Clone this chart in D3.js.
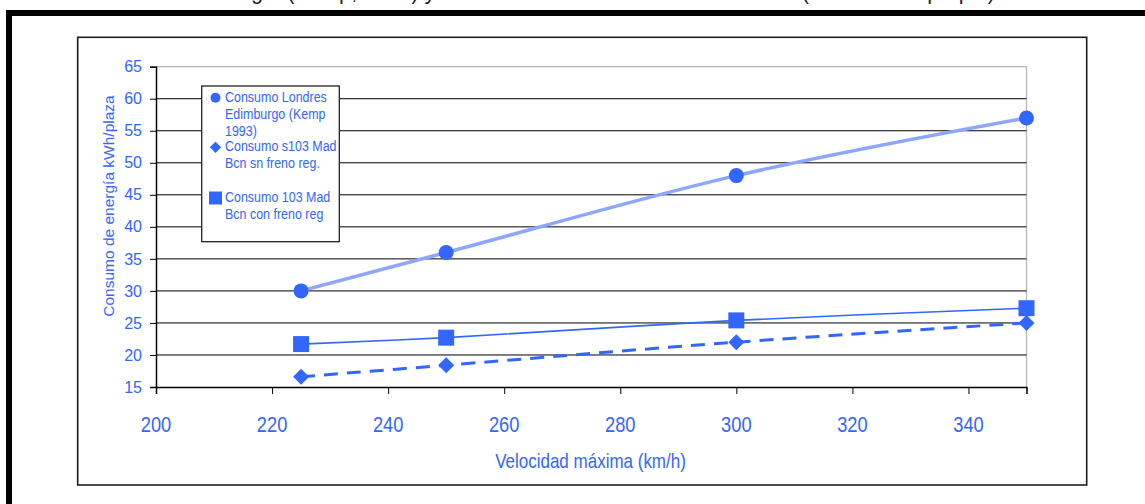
<!DOCTYPE html>
<html>
<head>
<meta charset="utf-8">
<script src="https://cdn.jsdelivr.net/npm/d3@7"></script>
<style>
  html, body { margin: 0; padding: 0; background: #fff; overflow: hidden; }
  svg { display: block; }
  text { font-family: "Liberation Sans", Arial, sans-serif; }
</style>
</head>
<body>
<svg id="chart" width="1145" height="504"></svg>
<script>
// Speeds (km/h) at which each consumption figure was measured
const speeds = [225, 250, 300, 350];

// Energy consumption, kWh per seat
const londresEdimburgo = [30, 36, 48, 57];
const s103SinFreno = [16.6, 18.4, 22, 25];
const s103ConFreno = [21.7, 22.7, 25.4, 27.3];

// Series names as shown in the legend (one array of lines per series)
const seriesNames = [
  ["Consumo Londres", "Edimburgo (Kemp", "1993)"],
  ["Consumo s103 Mad", "Bcn sn freno reg."],
  ["Consumo 103 Mad", "Bcn con freno reg"]
];

// Axis ticks
const xTicks = [200, 220, 240, 260, 280, 300, 320, 340];
const yTicks = [15, 20, 25, 30, 35, 40, 45, 50, 55, 60, 65];

const xTitle = "Velocidad máxima (km/h)";
const yTitle = "Consumo de energía kWh/plaza";
const figTitle = "Energía (Kemp, 1993) y consumo del s103 Madrid-Barcelona (elaboración propia)";

const BLUE = "#3366ff";
const LIGHT = "#8fa6ff";

const svg = d3.select("#chart");

// Heading above the framed figure (mostly outside the viewport)
svg.append("text")
  .attr("x", 205).attr("y", -1)
  .attr("textLength", 790).attr("lengthAdjust", "spacingAndGlyphs")
  .attr("font-size", 24).attr("fill", "#222")
  .text(figTitle);

// Heavy outer frame
svg.append("rect")
  .attr("x", 9).attr("y", 13).attr("width", 1200).attr("height", 600)
  .attr("fill", "none").attr("stroke", "#000").attr("stroke-width", 6);

// Chart area box
svg.append("rect")
  .attr("x", 77.7).attr("y", 37.3).attr("width", 1009).attr("height", 447.7)
  .attr("fill", "#fff").attr("stroke", "#1c1c1c").attr("stroke-width", 1.6);

const x = d3.scaleLinear().domain([200, 350]).range([156, 1026.5]);
const y = d3.scaleLinear().domain([15, 65]).range([387, 66.7]);

const plot = svg.append("g");

// Plot area border (top and right in gray)
plot.append("path")
  .attr("d", `M${x(200)},${y(65)}H${x(350)}V${y(15)}`)
  .attr("fill", "none").attr("stroke", "#b4b4b4").attr("stroke-width", 1.2);

// Horizontal gridlines
plot.append("g")
  .selectAll("line")
  .data(yTicks.filter(v => v > 15 && v < 65))
  .join("line")
  .attr("x1", x(200)).attr("x2", x(350))
  .attr("y1", d => y(d)).attr("y2", d => y(d))
  .attr("stroke", "#000").attr("stroke-width", 1);

// Y axis
const yAxis = plot.append("g")
  .attr("transform", `translate(${x(200)},0)`)
  .call(d3.axisLeft(y).tickValues(yTicks).tickSize(6).tickPadding(8));
yAxis.select(".domain").attr("stroke", "#000").attr("stroke-width", 1.5);
yAxis.selectAll(".tick line").attr("stroke", "#000").attr("stroke-width", 1);
yAxis.selectAll(".tick text")
  .attr("fill", BLUE).attr("font-size", 16)
  .attr("font-family", "'Liberation Sans', Arial, sans-serif");

// X axis
const xAxis = plot.append("g")
  .attr("transform", `translate(0,${y(15)})`)
  .call(d3.axisBottom(x).tickValues(xTicks).tickSize(7).tickFormat(""));
xAxis.select(".domain").attr("stroke", "#000").attr("stroke-width", 1.5);
xAxis.selectAll(".tick line").attr("stroke", "#000").attr("stroke-width", 1);

// X tick labels in a condensed face
plot.append("g")
  .selectAll("g")
  .data(xTicks)
  .join("g")
  .attr("transform", d => `translate(${x(d)},431.5) scale(0.83,1)`)
  .append("text")
  .attr("text-anchor", "middle")
  .attr("font-size", 22).attr("fill", BLUE)
  .text(d => d);

// Axis titles
svg.append("g")
  .attr("transform", "translate(590.5,468) scale(0.85,1)")
  .append("text")
  .attr("text-anchor", "middle").attr("font-size", 20).attr("fill", BLUE)
  .text(xTitle);

svg.append("text")
  .attr("transform", "translate(113.5,206) rotate(-90)")
  .attr("text-anchor", "middle").attr("font-size", 15.5).attr("fill", BLUE)
  .text(yTitle);

// Series lines
const line = d3.line()
  .x((d, i) => x(speeds[i]))
  .y(d => y(d))
  .curve(d3.curveCatmullRom.alpha(0.5));

plot.append("path").datum(londresEdimburgo)
  .attr("d", line).attr("fill", "none")
  .attr("stroke", LIGHT).attr("stroke-width", 3.5);

plot.append("path").datum(s103SinFreno)
  .attr("d", line).attr("fill", "none")
  .attr("stroke", BLUE).attr("stroke-width", 3)
  .attr("stroke-dasharray", "14,9");

plot.append("path").datum(s103ConFreno)
  .attr("d", line).attr("fill", "none")
  .attr("stroke", BLUE).attr("stroke-width", 1.6);

// Markers
const circleSym = d3.symbol().type(d3.symbolCircle).size(Math.PI * 7.5 * 7.5);
const diamondSym = d3.symbol().type(d3.symbolSquare).size(11.3 * 11.3);
const squareSym = d3.symbol().type(d3.symbolSquare).size(16 * 16);

plot.append("g").selectAll("path")
  .data(londresEdimburgo)
  .join("path")
  .attr("transform", (d, i) => `translate(${x(speeds[i])},${y(d)})`)
  .attr("d", circleSym).attr("fill", BLUE);

plot.append("g").selectAll("path")
  .data(s103SinFreno)
  .join("path")
  .attr("transform", (d, i) => `translate(${x(speeds[i])},${y(d)}) rotate(45)`)
  .attr("d", diamondSym).attr("fill", BLUE);

plot.append("g").selectAll("path")
  .data(s103ConFreno)
  .join("path")
  .attr("transform", (d, i) => `translate(${x(speeds[i])},${y(d)})`)
  .attr("d", squareSym).attr("fill", BLUE);

// Legend
const legend = svg.append("g");
legend.append("rect")
  .attr("x", 201.7).attr("y", 86).attr("width", 137.6).attr("height", 155.7)
  .attr("fill", "#fff").attr("stroke", "#222").attr("stroke-width", 1.3);

const legendRows = [
  { sym: d3.symbol().type(d3.symbolCircle).size(Math.PI * 5 * 5), rot: 0, my: 97.7, baselines: [101.7, 119, 136] },
  { sym: d3.symbol().type(d3.symbolSquare).size(8 * 8), rot: 45, my: 147.3, baselines: [151, 168.3] },
  { sym: d3.symbol().type(d3.symbolSquare).size(13 * 13), rot: 0, my: 198, baselines: [201.7, 219] }
];

legendRows.forEach((row, k) => {
  legend.append("path")
    .attr("transform", `translate(215.5,${row.my}) rotate(${row.rot})`)
    .attr("d", row.sym).attr("fill", BLUE);
  seriesNames[k].forEach((txt, j) => {
    legend.append("g")
      .attr("transform", `translate(225,${row.baselines[j]}) scale(0.86,1)`)
      .append("text")
      .attr("font-size", 14.5).attr("fill", BLUE)
      .text(txt);
  });
});
</script>
</body>
</html>
